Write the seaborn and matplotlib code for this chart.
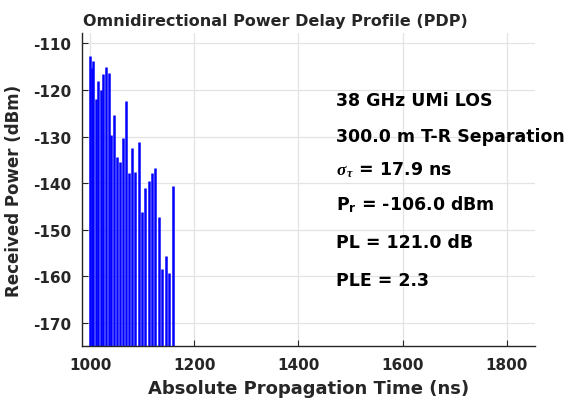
import seaborn as sns
import matplotlib.pyplot as plt
import numpy as np

# multipath components (absolute delay in ns, received power in dBm)
delay_ns = [1000.4, 1002.7, 1006.0, 1011.3, 1015.2, 1020.3, 1024.8, 1030.0, 1035.7, 1040.1,
            1045.0, 1051.0, 1056.8, 1063.1, 1068.9, 1074.6, 1080.4, 1086.7, 1093.3, 1099.2,
            1105.4, 1112.5, 1118.8, 1125.1, 1131.6, 1138.0, 1145.1, 1151.4, 1158.5]
power_dbm = [-112.7, -115.3, -113.7, -122.0, -118.0, -120.0, -116.5, -115.1, -116.3, -129.6,
             -125.4, -134.5, -135.4, -130.3, -122.4, -137.8, -132.5, -137.7, -131.2, -146.1,
             -141.0, -139.5, -137.8, -136.8, -147.3, -158.4, -155.7, -159.3, -140.6]
info_lines = ["38 GHz UMi LOS", "300.0 m T-R Separation", r"$\sigma_{\,\tau}$ = 17.9 ns",
              r"P$_\mathbf{r}$ = -106.0 dBm", "PL = 121.0 dB", "PLE = 2.3"]
floor_dbm = -175

sns.set_style("whitegrid")
plt.rcParams['font.family'] = ['DejaVu Sans']
plt.rcParams['font.weight'] = 'bold'
plt.rcParams['axes.unicode_minus'] = False
plt.rcParams['mathtext.fontset'] = 'custom'
plt.rcParams['mathtext.rm'] = 'DejaVu Sans:bold'
plt.rcParams['mathtext.bf'] = 'DejaVu Sans:bold'
plt.rcParams['mathtext.it'] = 'Liberation Serif:italic'

fig = plt.figure(figsize=(5.67, 4.02), dpi=100)
ax = fig.add_axes([82.3/567, 1-347.3/402, 452.7/567, 313.3/402])

ax.vlines(delay_ns, floor_dbm, power_dbm, color="#0000ff", linewidth=1.8)

ax.set_xlim(985, 1854)
ax.set_ylim(floor_dbm, -107.8)
ax.set_xticks([1000, 1200, 1400, 1600, 1800])
ax.set_yticks(np.arange(-170, -105, 10))
ax.grid(True, color="#e3e3e3", linewidth=0.9)
for s in ["top", "right"]:
    ax.spines[s].set_visible(False)
for s in ["left", "bottom"]:
    ax.spines[s].set_color("#262626")
    ax.spines[s].set_linewidth(1.0)
ax.tick_params(direction="in", length=4, width=0.8, color="#262626",
               labelsize=11, labelcolor="#262626", pad=8, left=True, bottom=True)
for lab in ax.get_xticklabels() + ax.get_yticklabels():
    lab.set_fontweight("bold")

ax.set_xlabel("Absolute Propagation Time (ns)", fontsize=13, fontweight="bold", color="#262626", labelpad=5)
ax.set_ylabel("Received Power (dBm)", fontsize=12, fontweight="bold", color="#262626", labelpad=7)
ax.set_title("Omnidirectional Power Delay Profile (PDP)", fontsize=11.5, fontweight="bold",
             x=0.427, pad=6)

ys = [0.787, 0.671, 0.566, 0.455, 0.333, 0.212]
for txt, y in zip(info_lines, ys):
    ax.text(0.560, y, txt, transform=ax.transAxes, fontsize=12.5, fontweight="bold",
            va="center", ha="left", color="black")

plt.savefig("out.png", dpi=100)
plt.close()
